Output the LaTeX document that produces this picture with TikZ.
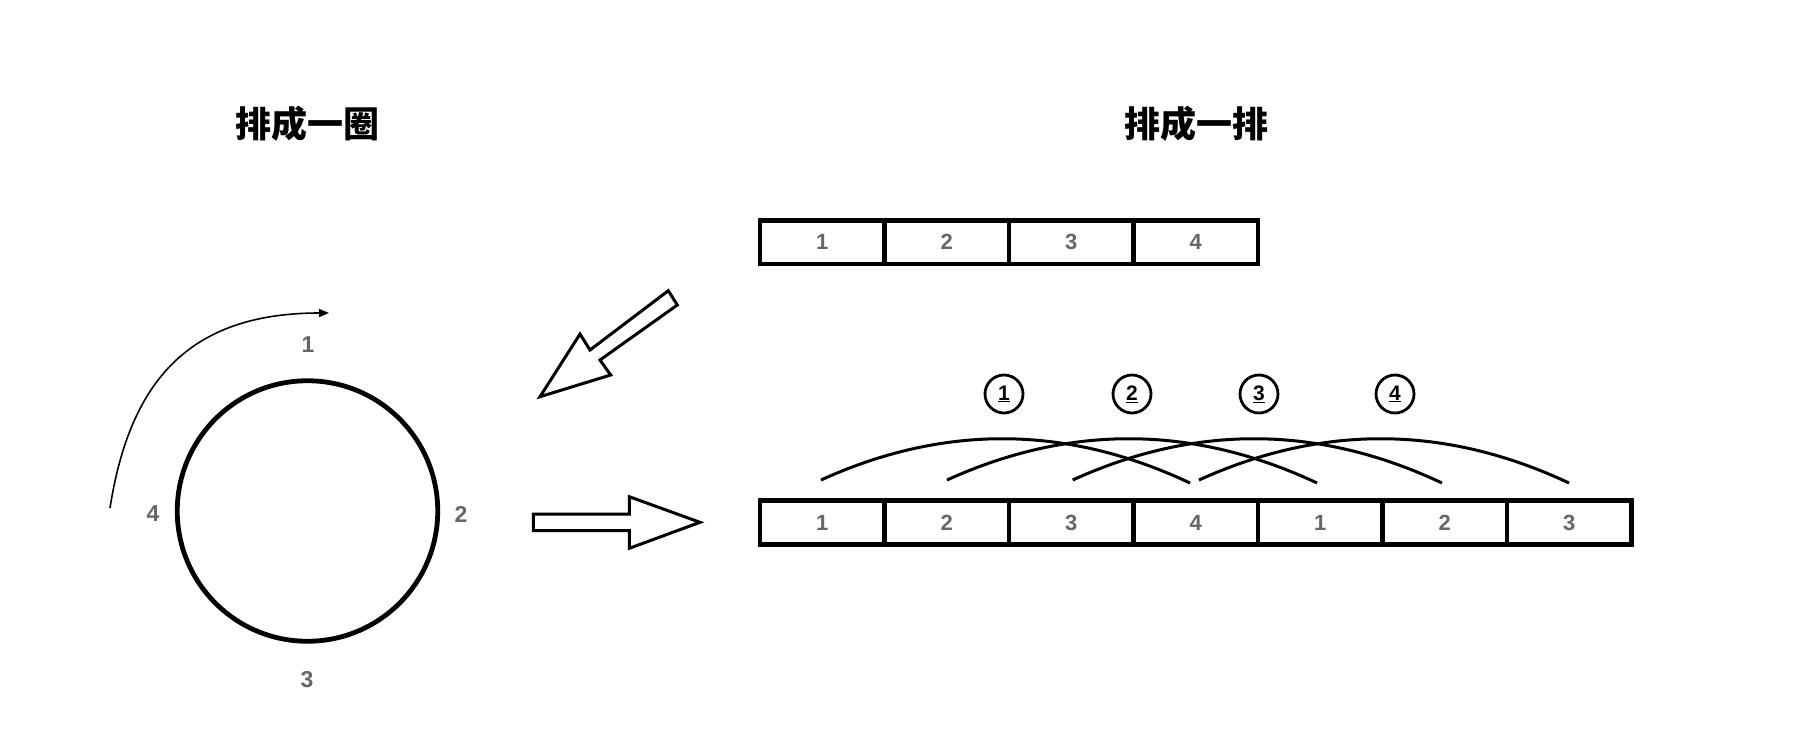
\documentclass[tikz,border=0pt]{standalone}
\usepackage{fontspec}
\setmainfont{Liberation Sans}[BoldFont={Liberation Sans Bold}]
\newfontfamily\cjk{Noto Sans CJK SC}
\usetikzlibrary{arrows.meta,calc}
\definecolor{lbl}{HTML}{666666}
\begin{document}
\begin{tikzpicture}[x=1pt,y=-1pt,
  cell/.style={draw, line width=4.5pt, minimum width=124.5pt, minimum height=44pt,
    inner sep=0pt, outer sep=0pt, text=lbl, font=\bfseries\fontsize{22}{22}\selectfont},
  ringlbl/.style={text=lbl, inner sep=0pt, font=\bfseries\fontsize{23}{23}\selectfont},
  title/.style={inner sep=0pt, font=\cjk\bfseries\fontsize{36}{36}\selectfont},
  numc/.style={circle, draw, line width=2.8pt, minimum size=38pt, inner sep=0pt,
    font=\bfseries\fontsize{21}{21}\selectfont},
  arcline/.style={line width=3pt},
  blockarrow/.style={draw, line width=3pt, line join=miter, fill=white}]
\useasboundingbox (0,0) rectangle (1798,734);

% titles
\node[title] (tl) at (307,124) {排成一圈};
\node[title] (tr) at (1196,124) {排成一排};

% ring
\node[circle, draw, line width=4.8pt, minimum size=260.5pt, inner sep=0pt] (ring) at (307.5,511) {};
\node[ringlbl] (r1) at (308,345) {1};
\node[ringlbl] (r2) at (461,514) {2};
\node[ringlbl] (r3) at (307,680) {3};
\node[ringlbl] (r4) at (153,514) {4};

% curved arrow
\coordinate (cs) at (110,508);
\coordinate (ce) at (329,313);
\draw[line width=1.6pt, -{Triangle[length=10pt,width=8pt]}] (cs) .. controls (130,380) and (190,313) .. (ce);

% top row
\foreach \i in {1,...,4}{
  \node[cell, minimum height=43.5pt] (t\i) at ({760+62.25+124.5*(\i-1)},242.25) {\i};
}

% bottom row
\foreach \i/\t in {1/1,2/2,3/3,4/4,5/1,6/2,7/3}{
  \node[cell] (b\i) at ({760+62.25+124.5*(\i-1)},522.5) {\t};
}

% circled numbers
\node[numc] (n1) at (1004,394) {\underline{1}};
\node[numc] (n2) at (1132,394) {\underline{2}};
\node[numc] (n3) at (1259,394) {\underline{3}};
\node[numc] (n4) at (1395,394) {\underline{4}};

% arcs
\coordinate (a1s) at (821,480);  \coordinate (a1e) at (1190,483);
\coordinate (a2s) at (947,480);  \coordinate (a2e) at (1317,483);
\coordinate (a3s) at (1072.7,480); \coordinate (a3e) at (1442,483);
\coordinate (a4s) at (1199,480); \coordinate (a4e) at (1569,483);
\foreach \k in {1,...,4}{
  \draw[arcline] (a\k s) .. controls ($(a\k s)!0.3333!(a\k e)+(0,-57)$) and ($(a\k s)!0.6667!(a\k e)+(0,-57)$) .. (a\k e);
}

% block arrows
\path[blockarrow] (668.3,290.7) -- (677.3,305) -- (600,360) -- (610.7,375) -- (540,396.7) -- (580,334) -- (590,350) -- cycle;
\path[blockarrow] (533.3,514) -- (629.3,514) -- (629.3,496.7) -- (700,522.3) -- (629.3,548.3) -- (629.3,530.7) -- (533.3,530.7) -- cycle;
\end{tikzpicture}
\end{document}
